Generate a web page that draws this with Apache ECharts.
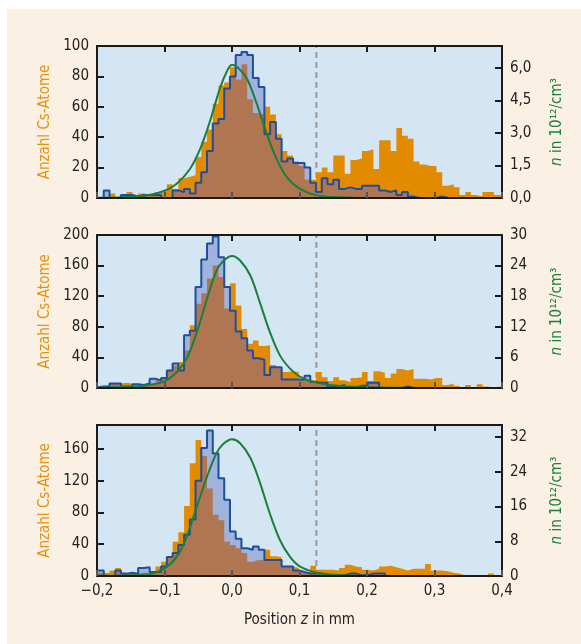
<!DOCTYPE html>
<html>
<head>
<meta charset="utf-8">
<script src="https://cdn.jsdelivr.net/npm/echarts@6/dist/echarts.min.js"></script>
<style>
html, body { margin: 0; padding: 0; background: #fff; }
#frame { position: absolute; left: 7px; top: 9px; width: 574px; height: 635px; background: #faf1e4; }
#chart { position: absolute; left: 0; top: 0; width: 581px; height: 644px; }
</style>
</head>
<body>
<div id="frame"></div>
<div id="chart"></div>
<script>
// histogram bins: first edge and width in mm (72 bins)
const binFirstEdge = -0.207
const binWidth = 0.0085

// panel 1
const orange1 = [0, 0, 0, 3, 0, 1, 4, 1, 3, 2, 2, 4,
  5, 9, 6, 13, 14, 15, 27, 37, 45, 62, 74, 76,
  86, 78, 88, 65, 56, 55, 60, 55, 42, 31, 28, 24,
  21, 12, 12, 17, 20, 17, 28, 28, 16, 25, 26, 31,
  32, 19, 38, 38, 31, 46, 41, 39, 24, 22, 21, 21,
  17, 8, 9, 7, 2, 4, 2, 1, 4, 4, 2, 1]
const blue1 = [0, 0, 5, 0, 0, 2, 2, 1, 2, 2, 2, 2,
  0, 0, 5, 4, 6, 3, 10, 17, 31, 49, 52, 72,
  80, 94, 96, 94, 79, 73, 42, 50, 39, 24, 26, 23,
  23, 20, 10, 4, 13, 9, 12, 6, 7, 6, 6, 8,
  8, 8, 5, 4, 5, 2, 4, 1, 0, 0, 0, 0,
  1, 0, 0, 0, 0, 0, 0, 0, 0, 0, 0, 0]
const fitZ1 = [-0.2, -0.146, -0.121, -0.1, -0.082, -0.062, -0.047, -0.033, -0.018, -0.008, 0, 0.009, 0.022, 0.036, 0.051, 0.066, 0.081, 0.1, 0.126, 0.16, 0.2, 0.3, 0.4]
const fitN1 = [0.01, 0.06, 0.15, 0.34, 0.66, 1.35, 2.27, 3.5, 5.04, 5.8, 6.14, 6.0, 5.5, 4.4, 3.0, 1.8, 0.97, 0.43, 0.12, 0.03, 0, 0, 0]

// panel 2
const orange2 = [0, 0, 3, 6, 6, 7, 6, 2, 3, 4, 5, 11,
  14, 23, 29, 34, 49, 82, 110, 124, 143, 160, 145, 104,
  137, 108, 77, 58, 62, 55, 56, 30, 25, 21, 22, 21,
  11, 10, 10, 21, 14, 9, 14, 10, 8, 13, 14, 21,
  9, 22, 20, 13, 19, 25, 23, 25, 12, 12, 11, 13,
  13, 4, 6, 3, 0, 4, 0, 5, 2, 0, 2, 2]
const blue2 = [1, 2, 2, 6, 6, 2, 2, 5, 4, 6, 12, 10,
  13, 23, 32, 23, 69, 75, 132, 168, 189, 198, 171, 132,
  101, 74, 65, 49, 39, 37, 17, 27, 27, 11, 11, 11,
  11, 16, 8, 7, 7, 2, 2, 4, 1, 1, 3, 3,
  7, 7, 0, 0, 0, 0, 2, 0, 0, 0, 0, 0,
  0, 0, 0, 0, 0, 0, 0, 0, 0, 0, 0, 0]
const fitZ2 = [-0.2, -0.146, -0.121, -0.1, -0.082, -0.067, -0.052, -0.037, -0.023, -0.013, 0, 0.012, 0.027, 0.041, 0.056, 0.071, 0.086, 0.101, 0.126, 0.16, 0.2, 0.3, 0.4]
const fitN2 = [0.1, 0.26, 0.65, 1.3, 3.1, 5.8, 11, 17.5, 23.0, 24.9, 25.9, 25.0, 22.1, 16.9, 11, 6.4, 3.8, 2.2, 1.0, 0.4, 0.13, 0, 0]

// panel 3
const orange3 = [4, 4, 4, 7, 10, 3, 3, 3, 4, 4, 5, 12,
  18, 24, 43, 55, 88, 142, 171, 151, 110, 77, 70, 43,
  39, 35, 29, 18, 20, 20, 33, 25, 24, 12, 12, 10,
  4, 5, 13, 8, 8, 8, 7, 10, 14, 12, 11, 8,
  7, 9, 12, 13, 11, 9, 7, 9, 9, 9, 15, 7,
  7, 6, 4, 3, 1, 1, 1, 1, 0, 3, 0, 0]
const blue3 = [7, 7, 0, 0, 7, 3, 4, 3, 10, 11, 5, 5,
  12, 24, 29, 39, 52, 71, 120, 161, 183, 154, 123, 96,
  56, 47, 35, 33, 37, 33, 20, 20, 20, 12, 12, 7,
  5, 3, 3, 3, 2, 1, 1, 1, 3, 3, 1, 1,
  3, 3, 3, 0, 0, 0, 0, 0, 0, 0, 0, 0,
  0, 0, 0, 0, 0, 0, 0, 0, 0, 0, 0, 0]
const fitZ3 = fitZ2
const fitN3 = [0.05, 0.15, 0.46, 1.76, 4.4, 9.1, 16, 22.9, 28.3, 30.4, 31.5, 30.6, 27.3, 21.7, 14.4, 8.3, 4.4, 2.15, 0.77, 0.15, 0, 0, 0]

// reference position (dashed line)
const cutZ = [0.125]

// axis ranges / tick steps per panel
const leftMax = [100, 200, 190]
const leftStep = [20, 40, 40]
const rightMax = [7, 30, 34.8]
const rightStep = [1.5, 6, 8]

const FONT = "'Liberation Sans Narrow', 'DejaVu Sans Condensed', sans-serif"
const FS = 15
const C_ORANGE = '#e38b00'
const C_LBLUE = '#9fb3dc'
const C_BROWN = '#b07652'
const C_BLUE = '#1d4f9e'
const C_GREEN = '#1b7f3a'
const C_BG = '#d4e5f3'
const C_AXIS = '#1a1a1a'
const C_TEXT = '#222'

const panels = [
  { orange: orange1, blue: blue1, fitZ: fitZ1, fitN: fitN1 },
  { orange: orange2, blue: blue2, fitZ: fitZ2, fitN: fitN2 },
  { orange: orange3, blue: blue3, fitZ: fitZ3, fitN: fitN3 }
]

function stepData(vals) {
  const out = []
  for (let k = 0; k < vals.length; k++) {
    out.push([binFirstEdge + k * binWidth, vals[k]])
  }
  out.push([binFirstEdge + vals.length * binWidth, vals[vals.length - 1]])
  return out
}

function onStep(v, step) {
  const r = v / step
  return Math.abs(r - Math.round(r)) < 1e-6
}

function fmtX(v) {
  const s = Math.abs(v).toFixed(1).replace('.', ',')
  return v < -1e-9 ? '\u2212' + s : s
}

const grids = [
  { left: 97, right: 79, top: 46, height: 152 },
  { left: 97, right: 79, top: 235, height: 153 },
  { left: 97, right: 79, top: 425, height: 151 }
].map(g => Object.assign(g, { show: true, backgroundColor: C_BG, borderWidth: 0, containLabel: false }))

const xAxis = []
const yAxis = []
const series = []

panels.forEach((p, g) => {
  const axisLine = { show: true, onZero: false, lineStyle: { color: C_AXIS, width: 2 } }
  xAxis.push({
    gridIndex: g, type: 'value', min: -0.2, max: 0.4, interval: 0.1, position: 'bottom', z: 5,
    axisLine: axisLine,
    axisTick: { show: true, inside: true, length: 6, lineStyle: { color: '#555', width: 2 } },
    axisLabel: { show: g === 2, margin: 8, fontSize: FS, color: C_TEXT, fontFamily: FONT, formatter: fmtX },
    splitLine: { show: false },
    name: g === 2 ? 'Position {i|z} in mm' : '',
    nameLocation: 'middle', nameGap: 37,
    nameTextStyle: { fontSize: FS, color: C_TEXT, fontFamily: FONT,
      rich: { i: { fontSize: FS, color: C_TEXT, fontFamily: FONT, fontStyle: 'italic' } } }
  })
  xAxis.push({
    gridIndex: g, type: 'value', min: -0.2, max: 0.4, interval: 0.1, position: 'top', z: 5,
    axisLine: axisLine,
    axisTick: { show: true, inside: true, length: 6, lineStyle: { color: C_AXIS, width: 2 } },
    axisLabel: { show: false },
    splitLine: { show: false }
  })
  yAxis.push({
    gridIndex: g, type: 'value', min: 0, max: leftMax[g], interval: leftStep[g], position: 'left', z: 5,
    axisLine: axisLine,
    axisTick: { show: true, inside: true, length: 7, lineStyle: { color: C_AXIS, width: 2 } },
    axisLabel: { margin: 8, fontSize: FS, color: C_TEXT, fontFamily: FONT,
      formatter: v => onStep(v, leftStep[g]) ? String(v) : '' },
    splitLine: { show: false },
    name: 'Anzahl Cs-Atome', nameLocation: 'middle', nameGap: 42, nameRotate: 90,
    nameTextStyle: { fontSize: FS, color: '#e8900c', fontFamily: FONT }
  })
  yAxis.push({
    gridIndex: g, type: 'value', min: 0, max: rightMax[g], interval: rightStep[g], position: 'right', z: 5,
    axisLine: axisLine,
    axisTick: { show: true, inside: true, length: 7, lineStyle: { color: C_AXIS, width: 2 } },
    axisLabel: { margin: 8, fontSize: FS, color: C_TEXT, fontFamily: FONT,
      formatter: v => {
        if (!onStep(v, rightStep[g])) return ''
        return g === 0 ? v.toFixed(1).replace('.', ',') : String(Math.round(v))
      } },
    splitLine: { show: false },
    name: '{i|n} in 10\u00b9\u00b2/cm\u00b3', nameLocation: 'middle', nameGap: 48, nameRotate: 90,
    nameTextStyle: { fontSize: FS, color: C_GREEN, fontFamily: FONT,
      rich: { i: { fontSize: FS, color: C_GREEN, fontFamily: FONT, fontStyle: 'italic' } } }
  })

  const xi = 2 * g
  const yl = 2 * g
  const yr = 2 * g + 1
  const overlap = p.orange.map((v, k) => Math.min(v, p.blue[k]))
  const area = (vals, color) => ({
    type: 'line', xAxisIndex: xi, yAxisIndex: yl, step: 'end', data: stepData(vals),
    showSymbol: false, silent: true, z: 2,
    lineStyle: { width: 0, opacity: 0 },
    areaStyle: { color: color, opacity: 1 }
  })

  series.push({
    type: 'line', xAxisIndex: xi, yAxisIndex: yl, z: 1, showSymbol: false, silent: true,
    data: [[cutZ[0], 0], [cutZ[0], leftMax[g]]],
    lineStyle: { color: '#999', width: 2, type: [6, 4] }
  })
  series.push(area(p.orange, C_ORANGE))
  series.push(area(p.blue, C_LBLUE))
  series.push(area(overlap, C_BROWN))
  series.push({
    type: 'line', xAxisIndex: xi, yAxisIndex: yl, step: 'end', data: stepData(p.blue),
    showSymbol: false, silent: true, z: 3,
    lineStyle: { color: C_BLUE, width: 2 }
  })
  series.push({
    type: 'line', xAxisIndex: xi, yAxisIndex: yr, z: 4, showSymbol: false, silent: true,
    smooth: 0.35,
    data: p.fitZ.map((z, k) => [z, p.fitN[k]]),
    lineStyle: { color: C_GREEN, width: 2 }
  })
})

const chart = echarts.init(document.getElementById('chart'), null, { renderer: 'canvas' })
chart.setOption({
  animation: false,
  backgroundColor: 'transparent',
  grid: grids,
  xAxis: xAxis,
  yAxis: yAxis,
  series: series
})
</script>
</body>
</html>
